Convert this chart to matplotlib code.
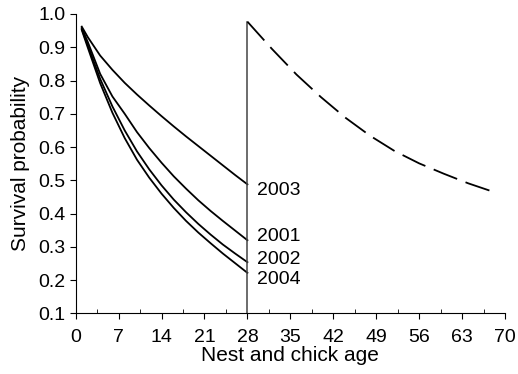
import matplotlib
matplotlib.use("Agg")
import matplotlib.pyplot as plt
from matplotlib.ticker import MultipleLocator

plt.rcParams["font.family"] = ["Liberation Sans", "DejaVu Sans"]

# nest period (days 1-28), one curve per year
dias = [1, 2, 4, 6, 8, 10, 12, 14, 16, 18, 20, 22, 24, 26, 28]
s2003 = [0.962, 0.930, 0.875, 0.832, 0.793, 0.758, 0.725, 0.693, 0.662, 0.632, 0.603, 0.574, 0.545, 0.516, 0.488]
s2001 = [0.958, 0.915, 0.820, 0.752, 0.700, 0.645, 0.597, 0.553, 0.512, 0.475, 0.440, 0.408, 0.378, 0.349, 0.320]
s2002 = [0.955, 0.905, 0.805, 0.722, 0.650, 0.587, 0.533, 0.485, 0.442, 0.404, 0.369, 0.337, 0.307, 0.280, 0.254]
s2004 = [0.952, 0.898, 0.792, 0.703, 0.627, 0.562, 0.508, 0.460, 0.417, 0.378, 0.343, 0.311, 0.280, 0.251, 0.222]

# chick period (dashed)
dias_pollo = [28, 32, 36, 40, 44, 48, 52, 56, 60, 64, 68]
s_pollo = [0.977, 0.895, 0.818, 0.750, 0.688, 0.634, 0.588, 0.551, 0.520, 0.491, 0.466]

etiquetas = ["2003", "2001", "2002", "2004"]
pos_etiq = [0.470, 0.330, 0.263, 0.203]

fig = plt.figure(figsize=(5.18, 3.74), dpi=100)
ax = fig.add_axes([0.146, 0.162, 0.829, 0.8006])

for serie in [s2003, s2001, s2002, s2004]:
    ax.plot(dias, serie, color="black", lw=1.3)

ax.plot([28, 28], [0.1, s_pollo[0]], color="#444444", lw=1.1)
ax.plot(dias_pollo, s_pollo, color="black", lw=1.3, dashes=(14, 5))

for txt, yy in zip(etiquetas, pos_etiq):
    ax.text(29.6, yy, txt, fontsize=14, va="center", ha="left")

ax.set_xlim(0, 70)
ax.set_ylim(0.1, 1.0)
ax.xaxis.set_major_locator(MultipleLocator(7))
ax.xaxis.set_minor_locator(MultipleLocator(3.5))
ax.yaxis.set_major_locator(MultipleLocator(0.1))
ax.set_yticklabels([f"{v:.1f}" for v in ax.get_yticks()])

ax.spines["top"].set_visible(False)
ax.spines["right"].set_visible(False)
ax.tick_params(axis="both", which="major", labelsize=14, length=4, direction="out")
ax.tick_params(axis="x", which="major", pad=7)
ax.tick_params(axis="x", which="minor", length=3, direction="in")

ax.set_xlabel("Nest and chick age", fontsize=15, labelpad=0)
ax.set_ylabel("Survival probability", fontsize=15, labelpad=6)

plt.savefig("out.png", dpi=100)
